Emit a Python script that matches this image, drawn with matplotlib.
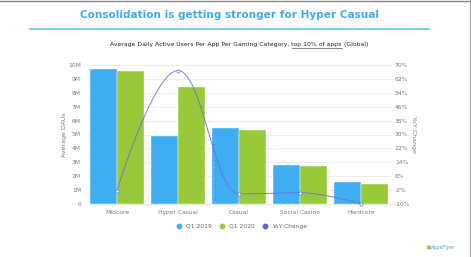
import matplotlib
matplotlib.use("Agg")
import matplotlib.pyplot as plt
from matplotlib.lines import Line2D
import numpy as np

categories = ["Midcore", "Hyper Casual", "Casual", "Social Casino", "Hardcore"]
q1_2019 = [9.7, 4.9, 5.47, 2.8, 1.56]      # millions
q1_2020 = [9.6, 8.4, 5.32, 2.73, 1.46]     # millions
yoy = [-2.3, 66.8, -4.2, -3.5, -10.0]      # percent
left_ticks = [0, 1, 2, 3, 4, 5, 6, 7, 8, 9, 10]
left_labels = ["0", "1M", "2M", "3M", "4M", "5M", "6M", "7M", "8M", "9M", "10M"]
right_ticks = [-10, -2, 6, 14, 22, 30, 38, 46, 54, 62, 70]

BLUE = "#3fadf2"
GREEN = "#99c93a"
LINE = "#6b6fd8"
TICKC = "#7a7a7a"

W, H = 471, 257
fig = plt.figure(figsize=(W / 100, H / 100), dpi=100)
fig.patch.set_facecolor("white")

def fx(px):
    return px / W

def fy(py):
    return 1 - py / H

ax = fig.add_axes([fx(86.5), fy(204), fx(391.5) - fx(86.5), fy(65) - fy(204)])
ax2 = ax.twinx()
ax.set_zorder(1)
ax2.set_zorder(2)
ax.patch.set_visible(False)
ax2.patch.set_visible(False)

x = np.arange(len(categories))
bw = 0.435
ax.bar(x - bw / 2 - 0.004, q1_2019, bw, color=BLUE, edgecolor="white", linewidth=0.3, zorder=3)
ax.bar(x + bw / 2 + 0.004, q1_2020, bw, color=GREEN, edgecolor="white", linewidth=0.3, zorder=3)

ax.set_xlim(-0.5, len(categories) - 0.5)
ax.set_ylim(0, 10)
ax.set_yticks(left_ticks)
ax.set_yticklabels(left_labels)
ax.set_xticks(x)
ax.set_xticklabels(categories)
ax.grid(axis="y", color="#ececec", linewidth=0.6, zorder=0)
for s in ax.spines.values():
    s.set_visible(False)
for s in ax2.spines.values():
    s.set_visible(False)
ax.spines["bottom"].set_visible(True)
ax.spines["bottom"].set_color("#dddddd")
ax.spines["bottom"].set_linewidth(0.5)
ax.tick_params(axis="y", length=0, labelsize=4.3, labelcolor=TICKC, pad=4)
ax.tick_params(axis="x", length=0, labelsize=4.3, labelcolor=TICKC, pad=4)
ax.set_ylabel("Average DAUs", fontsize=4.5, color=TICKC, labelpad=1)

ax2.set_ylim(-10, 70)
ax2.set_yticks(right_ticks)
ax2.set_yticklabels([f"{t}%" for t in right_ticks])
ax2.tick_params(axis="y", length=0, labelsize=4.3, labelcolor=TICKC, pad=2.5)
ax2.set_ylabel("YoY Change", fontsize=4.5, color=TICKC, rotation=270, labelpad=4)

# Spline (Highcharts-style) through YoY points, computed in pixel-like units
sx = 61.0
sy = 139.0 / 80.0
px = x * sx
py = np.array(yoy) * sy
n = len(px)
lc = [None] * n
rc = [None] * n
sm, den = 1.5, 2.5
for i in range(n):
    if i == 0 or i == n - 1:
        lc[i] = (px[i], py[i])
        rc[i] = (px[i], py[i])
        continue
    lx = (sm * px[i] + px[i - 1]) / den
    ly = (sm * py[i] + py[i - 1]) / den
    rx = (sm * px[i] + px[i + 1]) / den
    ry = (sm * py[i] + py[i + 1]) / den
    corr = ((ry - ly) * (rx - px[i])) / (rx - lx) + py[i] - ry
    ly += corr
    ry += corr
    if ly > py[i - 1] and ly > py[i]:
        ly = max(py[i - 1], py[i]); ry = 2 * py[i] - ly
    elif ly < py[i - 1] and ly < py[i]:
        ly = min(py[i - 1], py[i]); ry = 2 * py[i] - ly
    if ry > py[i + 1] and ry > py[i]:
        ry = max(py[i + 1], py[i]); ly = 2 * py[i] - ry
    elif ry < py[i + 1] and ry < py[i]:
        ry = min(py[i + 1], py[i]); ly = 2 * py[i] - ry
    lc[i] = (lx, ly)
    rc[i] = (rx, ry)
cx, cy = [], []
t = np.linspace(0, 1, 40)
for i in range(n - 1):
    p0 = np.array([px[i], py[i]])
    p1 = np.array(rc[i])
    p2 = np.array(lc[i + 1])
    p3 = np.array([px[i + 1], py[i + 1]])
    for tt in t:
        b = ((1 - tt) ** 3) * p0 + 3 * ((1 - tt) ** 2) * tt * p1 + 3 * (1 - tt) * tt ** 2 * p2 + tt ** 3 * p3
        cx.append(b[0] / sx)
        cy.append(b[1] / sy)
ax2.plot(cx, cy, color=LINE, linewidth=0.6, zorder=4, clip_on=False)
ax2.plot(x, yoy, linestyle="none", marker="o", markersize=2.3, markerfacecolor="white",
         markeredgecolor=LINE, markeredgewidth=0.5, zorder=5, clip_on=False)

# Title
fig.text(fx(229), fy(15.5), "Consolidation is getting stronger for Hyper Casual",
         ha="center", va="center", fontsize=7.6, fontweight="bold", color="#45aaea",
         family="DejaVu Sans")
fig.add_artist(Line2D([fx(30), fx(429)], [fy(28.5), fy(28.5)], color="#5bb8ee", linewidth=1.1))

# Subtitle with underlined part
parts = ["Average Daily Active Users Per App Per Gaming Category, ", "top 10% of apps", " (Global)"]
fig.canvas.draw()
renderer = fig.canvas.get_renderer()
tmp = [fig.text(0, 0, p, fontsize=4.4, color="#222222") for p in parts]
widths = [tt.get_window_extent(renderer).width for tt in tmp]
for tt in tmp:
    tt.remove()
total = sum(widths)
start = 239 - total / 2
ycen = 44.5
cur = start
for i, p in enumerate(parts):
    fig.text(fx(cur), fy(ycen), p, fontsize=4.4, color="#222222", ha="left", va="center")
    if i == 1:
        fig.add_artist(Line2D([fx(cur + 1), fx(cur + widths[i])], [fy(ycen + 3), fy(ycen + 3)],
                              color="#222222", linewidth=0.4))
    cur += widths[i]

# Legend
handles = [
    Line2D([], [], linestyle="none", marker="o", markersize=3.2, color=BLUE),
    Line2D([], [], linestyle="none", marker="o", markersize=3.2, color=GREEN),
    Line2D([], [], linestyle="none", marker="o", markersize=3.2, color="#5a6ad6"),
]
fig.legend(handles, ["Q1 2019", "Q1 2020", "YoY Change"], loc="center",
           bbox_to_anchor=(fx(240), fy(226)), ncol=3, frameon=False, fontsize=4.3,
           handletextpad=0.1, columnspacing=0.8, labelcolor="#666666")

# Logo text
fig.text(fx(443), fy(248), "AppsFlyer", fontsize=3.6, color="#3aa7e0", ha="center", va="center",
         style="italic")
fig.text(fx(429), fy(248), "✱", fontsize=5, color="#8cc63f", ha="center", va="center")

# Frame edges of the screenshot
fig.add_artist(Line2D([0, 1], [fy(0.5), fy(0.5)], color="#8a8a8a", linewidth=1.0))
fig.add_artist(Line2D([fx(469.5), fx(469.5)], [0, 1], color="#9a9a9a", linewidth=0.8))

fig.savefig("out.png", dpi=100, facecolor="white")
